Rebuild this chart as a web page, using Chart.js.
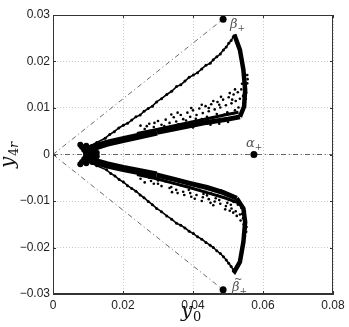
<!DOCTYPE html>
<html>
<head>
<meta charset="utf-8">
<script src="https://cdn.jsdelivr.net/npm/chart.js@4.4.0/dist/chart.umd.min.js"></script>
<style>
  html, body { margin: 0; padding: 0; background: #fff; }
  #wrap { width: 349px; height: 327px; }
</style>
</head>
<body>
<div id="wrap"><canvas id="myChart" width="349" height="327"></canvas></div>
<script>
'use strict';

// axis ticks
const xTicks = [0, 0.02, 0.04, 0.06, 0.08];
const yTicks = [-0.03, -0.02, -0.01, 0, 0.01, 0.02, 0.03];

// marked points
const alphaPlus = [[0.0574, 0]];
const betaPlus = [[0.0486, 0.0291]];
const betaTilde = [[0.0486, -0.0291]];

// dash-dot guides
const guideUp = [[0, 0], [0.0501, 0.03]];
const guideDown = [[0, 0], [0.0501, -0.03]];
const guideMid = [[0, 0], [0.08, 0]];

// upper lobe
const upperOuter = [[0.0100,0.0016],[0.0125,0.0026],[0.0149,0.0035],[0.0162,0.0043],[0.0175,0.0049],[0.0188,0.0057],[0.0201,0.0063],[0.0213,0.0067],[0.0225,0.0074],[0.0237,0.0081],[0.0249,0.0085],[0.0260,0.0093],[0.0272,0.0099],[0.0284,0.0104],[0.0296,0.0113],[0.0310,0.0120],[0.0325,0.0129],[0.0339,0.0136],[0.0353,0.0146],[0.0365,0.0150],[0.0377,0.0158],[0.0389,0.0166],[0.0401,0.0171],[0.0413,0.0176],[0.0425,0.0184],[0.0437,0.0192],[0.0449,0.0196],[0.0458,0.0204],[0.0468,0.0210],[0.0478,0.0216],[0.0487,0.0225],[0.0495,0.0231],[0.0502,0.0239],[0.0509,0.0245],[0.0515,0.0253]];
const upperTip = [[0.0515,0.0253],[0.0520,0.0254],[0.0534,0.0225],[0.0544,0.0182],[0.0549,0.0139],[0.0546,0.0103],[0.0534,0.0081]];
const upperInnerFar = [[0.0534,0.0081],[0.0500,0.0076],[0.0439,0.0069],[0.0390,0.0062],[0.0344,0.0055],[0.0297,0.0048]];
const upperInnerNear = [[0.0297,0.0048],[0.0249,0.0040],[0.0200,0.0032],[0.0153,0.0024],[0.0120,0.0016],[0.0100,0.0010]];
const upperBand = [[0.0530,0.0091],[0.0490,0.0085],[0.0440,0.0077],[0.0390,0.0069],[0.0340,0.0061],[0.0290,0.0053],[0.0240,0.0045]];
const upperScatter = [[0.0250,0.0062],[0.0262,0.0055],[0.0275,0.0066],[0.0288,0.0059],[0.0300,0.0072],[0.0310,0.0064],[0.0322,0.0075],[0.0333,0.0068],[0.0345,0.0080],[0.0352,0.0071],[0.0365,0.0085],[0.0372,0.0076],[0.0384,0.0090],[0.0392,0.0081],[0.0400,0.0095],[0.0410,0.0085],[0.0418,0.0099],[0.0428,0.0089],[0.0436,0.0104],[0.0445,0.0093],[0.0452,0.0108],[0.0462,0.0097],[0.0470,0.0113],[0.0478,0.0101],[0.0486,0.0118],[0.0494,0.0106],[0.0502,0.0123],[0.0510,0.0110],[0.0516,0.0129],[0.0522,0.0115],[0.0528,0.0134],[0.0534,0.0120],[0.0538,0.0140],[0.0543,0.0126],[0.0548,0.0146],[0.0552,0.0133],[0.0555,0.0153],[0.0556,0.0162],[0.0555,0.0171],[0.0318,0.0061],[0.0380,0.0073],[0.0440,0.0081],[0.0498,0.0091],[0.0530,0.0101],[0.0468,0.0087],[0.0408,0.0077],[0.0338,0.0086],[0.0356,0.0090],[0.0395,0.0100],[0.0425,0.0107],[0.0458,0.0115],[0.0480,0.0124],[0.0505,0.0132],[0.0520,0.0140],[0.0540,0.0152],[0.0551,0.0120],[0.0546,0.0112],[0.0520,0.0095],[0.0490,0.0086],[0.0456,0.0080],[0.0425,0.0076],[0.0290,0.0068],[0.0268,0.0061],[0.0358,0.0065],[0.0395,0.0070],[0.0445,0.0100],[0.0475,0.0107],[0.0512,0.0118],[0.0400,0.0058],[0.0450,0.0064],[0.0500,0.0070],[0.0475,0.0066]];

// lower lobe
const lowerOuter = [[0.0100,-0.0015],[0.0125,-0.0024],[0.0153,-0.0033],[0.0165,-0.0041],[0.0177,-0.0046],[0.0189,-0.0054],[0.0201,-0.0059],[0.0213,-0.0067],[0.0225,-0.0073],[0.0237,-0.0079],[0.0249,-0.0087],[0.0260,-0.0093],[0.0272,-0.0101],[0.0284,-0.0108],[0.0296,-0.0116],[0.0310,-0.0123],[0.0325,-0.0132],[0.0339,-0.0139],[0.0353,-0.0148],[0.0365,-0.0152],[0.0377,-0.0158],[0.0389,-0.0165],[0.0401,-0.0170],[0.0413,-0.0177],[0.0425,-0.0182],[0.0437,-0.0189],[0.0449,-0.0195],[0.0458,-0.0200],[0.0468,-0.0207],[0.0478,-0.0213],[0.0487,-0.0220],[0.0495,-0.0227],[0.0502,-0.0234],[0.0509,-0.0241],[0.0515,-0.0248]];
const lowerTip = [[0.0515,-0.0248],[0.0519,-0.0251],[0.0534,-0.0231],[0.0544,-0.0188],[0.0549,-0.0145],[0.0544,-0.0116],[0.0525,-0.0094]];
const lowerInnerFar = [[0.0525,-0.0094],[0.0487,-0.0082],[0.0440,-0.0071],[0.0391,-0.0062],[0.0350,-0.0054],[0.0296,-0.0044]];
const lowerInnerNear = [[0.0296,-0.0044],[0.0249,-0.0037],[0.0201,-0.0030],[0.0153,-0.0022],[0.0120,-0.0015],[0.0100,-0.0009]];
const lowerBand = [[0.0530,-0.0104],[0.0490,-0.0093],[0.0440,-0.0082],[0.0390,-0.0071],[0.0340,-0.0061],[0.0290,-0.0051],[0.0240,-0.0043]];
const lowerScatter = [[0.0250,-0.0052],[0.0262,-0.0060],[0.0275,-0.0050],[0.0288,-0.0063],[0.0300,-0.0056],[0.0310,-0.0068],[0.0322,-0.0058],[0.0333,-0.0072],[0.0345,-0.0062],[0.0352,-0.0076],[0.0365,-0.0066],[0.0372,-0.0080],[0.0384,-0.0069],[0.0392,-0.0083],[0.0400,-0.0073],[0.0410,-0.0087],[0.0418,-0.0076],[0.0428,-0.0092],[0.0436,-0.0080],[0.0445,-0.0096],[0.0452,-0.0084],[0.0462,-0.0101],[0.0470,-0.0088],[0.0478,-0.0106],[0.0486,-0.0092],[0.0494,-0.0111],[0.0502,-0.0097],[0.0510,-0.0116],[0.0516,-0.0102],[0.0522,-0.0122],[0.0528,-0.0108],[0.0534,-0.0129],[0.0538,-0.0115],[0.0543,-0.0137],[0.0548,-0.0122],[0.0551,-0.0146],[0.0553,-0.0156],[0.0552,-0.0166],[0.0548,-0.0176],[0.0340,-0.0081],[0.0395,-0.0091],[0.0450,-0.0104],[0.0505,-0.0121],[0.0480,-0.0077],[0.0420,-0.0068],[0.0360,-0.0059],[0.0338,-0.0070],[0.0356,-0.0083],[0.0375,-0.0087],[0.0405,-0.0095],[0.0425,-0.0100],[0.0440,-0.0088],[0.0458,-0.0109],[0.0475,-0.0098],[0.0492,-0.0118],[0.0508,-0.0108],[0.0525,-0.0132],[0.0540,-0.0128],[0.0545,-0.0150],[0.0550,-0.0160],[0.0536,-0.0142],[0.0515,-0.0125],[0.0498,-0.0104],[0.0465,-0.0094],[0.0430,-0.0085],[0.0388,-0.0076],[0.0300,-0.0063],[0.0280,-0.0057]];

// blob where both lobes meet
const nose = [[0.0078,0.0021],[0.0083,0.0016],[0.0089,0.0010],[0.0094,0.0004],[0.0094,-0.0004],[0.0089,-0.0010],[0.0083,-0.0016],[0.0078,-0.0021],[0.0095,0.0019],[0.0100,0.0012],[0.0104,0.0005],[0.0104,-0.0005],[0.0100,-0.0012],[0.0095,-0.0019],[0.0112,0.0016],[0.0115,0.0008],[0.0118,0.0],[0.0115,-0.0008],[0.0112,-0.0016],[0.0125,0.0004],[0.0125,-0.0004]];

function pts(arr) {
  return arr.map(function (p) { return { x: p[0], y: p[1] }; });
}

function guide(arr) {
  return { data: pts(arr), showLine: true, borderColor: '#444', borderWidth: 0.8,
           borderDash: [5, 3, 1, 3], pointRadius: 0, order: 20 };
}
function curve(arr, w) {
  return { data: pts(arr), showLine: true, borderColor: '#000', borderWidth: w,
           pointRadius: 0, order: 5 };
}
function dots(arr, r) {
  return { data: pts(arr), showLine: false, backgroundColor: '#000', borderWidth: 0,
           pointRadius: r, order: 4 };
}

function tickLabel(v) {
  if (v === 0) return '0';
  const s = Math.abs(v).toFixed(2);
  return (v < 0 ? '\u2212' : '') + s;
}

// frame, inward ticks, annotations, axis titles
const extras = {
  id: 'extras',
  afterDraw: function (chart) {
    const ctx = chart.ctx;
    const a = chart.chartArea;
    const xs = chart.scales.x, ys = chart.scales.y;
    ctx.save();
    ctx.strokeStyle = '#333';
    ctx.lineWidth = 1;
    ctx.strokeRect(a.left + 0.5, a.top + 0.5, a.right - a.left - 1, a.bottom - a.top - 1);
    ctx.beginPath();
    xTicks.forEach(function (v) {
      const px = Math.round(xs.getPixelForValue(v)) + 0.5;
      ctx.moveTo(px, a.bottom); ctx.lineTo(px, a.bottom - 3);
      ctx.moveTo(px, a.top); ctx.lineTo(px, a.top + 3);
    });
    yTicks.forEach(function (v) {
      const py = Math.round(ys.getPixelForValue(v)) + 0.5;
      ctx.moveTo(a.left, py); ctx.lineTo(a.left + 3, py);
      ctx.moveTo(a.right, py); ctx.lineTo(a.right - 3, py);
    });
    ctx.stroke();

    // point labels
    ctx.fillStyle = '#555';
    ctx.textAlign = 'left';
    ctx.textBaseline = 'alphabetic';
    function sub(label, px, py, tilde) {
      ctx.font = 'italic 13px "DejaVu Serif"';
      ctx.fillText(label, px, py);
      const w = ctx.measureText(label).width;
      if (tilde) {
        ctx.font = '10px "DejaVu Serif"';
        ctx.fillText('~', px + 2, py - 9);
      }
      ctx.font = '9px "DejaVu Serif"';
      ctx.fillText('+', px + w, py + 3);
    }
    const bp = betaPlus[0], ap = alphaPlus[0], bt = betaTilde[0];
    sub('\u03b2', xs.getPixelForValue(bp[0]) + 7, ys.getPixelForValue(bp[1]) + 9, false);
    sub('\u03b1', xs.getPixelForValue(ap[0]) - 8, ys.getPixelForValue(ap[1]) - 8, false);
    sub('\u03b2', xs.getPixelForValue(bt[0]) + 9, ys.getPixelForValue(bt[1]) + 1, true);

    // axis titles
    ctx.fillStyle = '#111';
    ctx.font = 'italic 20px "DejaVu Serif"';
    ctx.fillText('y', 181, 317);
    ctx.font = '13px "DejaVu Serif"';
    ctx.fillText('0', 193, 321);

    ctx.translate(14, 168);
    ctx.rotate(-Math.PI / 2);
    ctx.font = 'italic 20px "DejaVu Serif"';
    ctx.fillText('y', 0, 0);
    ctx.font = '13px "DejaVu Serif"';
    ctx.fillText('4', 12, 4);
    ctx.font = 'italic 13px "DejaVu Serif"';
    ctx.fillText('r', 20, 4);
    ctx.restore();
  }
};

const ctx = document.getElementById('myChart');
const myChart = new Chart(ctx, {
  type: 'scatter',
  data: {
    datasets: [
      guide(guideUp), guide(guideDown), guide(guideMid),
      curve(upperOuter, 1.6), dots(upperOuter, 1.5),
      curve(upperTip, 4.5), curve(upperInnerFar, 5), curve(upperInnerNear, 7),
      curve(upperBand, 3), dots(upperScatter, 1.3),
      curve(lowerOuter, 1.6), dots(lowerOuter, 1.5),
      curve(lowerTip, 4.5), curve(lowerInnerFar, 5), curve(lowerInnerNear, 7),
      curve(lowerBand, 3), dots(lowerScatter, 1.3),
      dots(nose, 3),
      dots(alphaPlus, 3.5), dots(betaPlus, 3.5), dots(betaTilde, 3.5)
    ]
  },
  options: {
    responsive: false,
    animation: false,
    layout: { padding: { top: 15, right: 16, left: 0, bottom: 0 } },
    plugins: { legend: { display: false }, tooltip: { enabled: false } },
    scales: {
      x: {
        type: 'linear', min: 0, max: 0.08,
        afterBuildTicks: function (s) { s.ticks = xTicks.map(function (v) { return { value: v }; }); },
        afterFit: function (s) { s.height = 33; },
        ticks: { color: '#222', font: { family: 'Liberation Sans', size: 12 }, padding: 4,
                 maxRotation: 0, callback: tickLabel },
        grid: { color: '#bbb', lineWidth: 0.8, drawTicks: false },
        border: { color: '#333', width: 1, dash: [1, 2] }
      },
      y: {
        type: 'linear', min: -0.03, max: 0.03,
        afterBuildTicks: function (s) { s.ticks = yTicks.map(function (v) { return { value: v }; }); },
        afterFit: function (s) { s.width = 53; },
        ticks: { color: '#222', font: { family: 'Liberation Sans', size: 12 }, padding: 3,
                 callback: tickLabel },
        grid: { color: '#bbb', lineWidth: 0.8, drawTicks: false },
        border: { color: '#333', width: 1, dash: [1, 2] }
      }
    }
  },
  plugins: [extras]
});
</script>
</body>
</html>
